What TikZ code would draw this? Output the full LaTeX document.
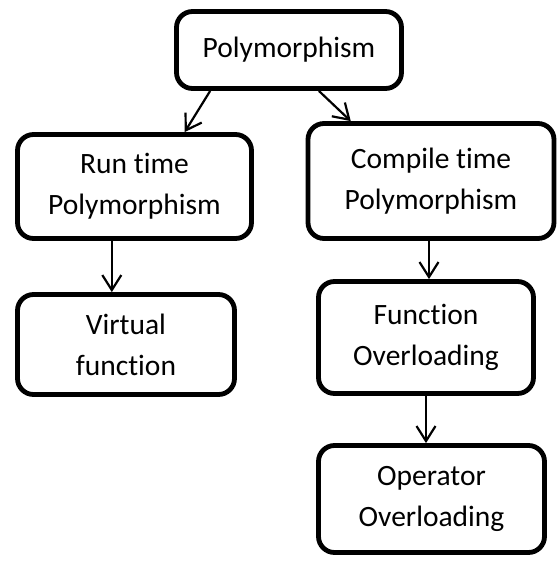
\documentclass[tikz,border=0pt]{standalone}
\usepackage{fontspec}
\setmainfont{Carlito}[Ligatures=NoCommon]
\usetikzlibrary{arrows.meta,calc}

\tikzset{
  box/.style={draw=black, line width=4.8pt, rounded corners=16pt, fill=white,
    align=center, inner sep=0pt, font=\fontsize{29.5}{41}\selectfont},
  arr/.style={line width=2.2pt, -{Straight Barb[length=15pt,width=19pt]}},
}

\begin{document}
\begin{tikzpicture}[x=1pt,y=1pt]
  \useasboundingbox (0,0) rectangle (558,-563);

  % boxes (centre, size)
  \node[box, minimum width=225pt, minimum height=77pt] (poly) at (289,-50) {Polymorphism};
  \node[box, minimum width=234pt, minimum height=104pt] (run) at (134.5,-186.5) {Run time\\Polymorphism};
  \node[box, minimum width=217pt, minimum height=100pt] (virt) at (126,-344.5) {Virtual\\function};
  \node[box, minimum width=246pt, minimum height=115pt] (comp) at (431,-181) {Compile time\\Polymorphism};
  \node[box, minimum width=215pt, minimum height=112pt] (func) at (426,-337.5) {Function\\Overloading};
  \node[box, minimum width=226pt, minimum height=107pt] (oper) at (431.5,-499) {Operator\\Overloading};

  % connectors
  \coordinate (p1) at ($(poly.south west)!0.157!(poly.south east)$);
  \coordinate (r1) at ($(run.north west)!0.71!(run.north east)$);
  \coordinate (p2) at ($(poly.south west)!0.63!(poly.south east)$);
  \coordinate (c1) at ($(comp.north west)!0.18!(comp.north east)$);
  \coordinate (r2) at ($(run.south west)!0.405!(run.south east)$);
  \coordinate (c2) at ($(comp.south west)!0.50!(comp.south east)+(-2,0)$);

  \draw[arr] (p1) -- (r1);
  \draw[arr] (p2) -- (c1);
  \draw[arr] (r2) -- (r2 |- virt.north);
  \draw[arr] (c2) -- (c2 |- func.north);
  \draw[arr] (func.south) -- (func.south |- oper.north);
\end{tikzpicture}
\end{document}
